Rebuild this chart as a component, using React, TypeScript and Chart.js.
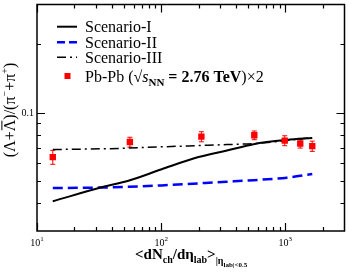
import React, { useEffect, useRef } from 'react';
import { Chart, registerables } from 'chart.js';

Chart.register(...registerables);

// ---- data ----
const dataX = [13.4, 56, 211, 563, 990, 1320, 1650];
const dataY = [0.0636, 0.0741, 0.0783, 0.0794, 0.0752, 0.073, 0.0711];
const dataErr = [0.0045, 0.0037, 0.004, 0.0035, 0.0038, 0.0033, 0.0037];

const modelX = [13.4, 34.3, 54.5, 101, 200, 339, 555, 1032, 1650];
const scenarioI = [0.0406, 0.047, 0.05, 0.0562, 0.0636, 0.068, 0.0725, 0.0757, 0.0772];
const scenarioII = [0.0464, 0.0467, 0.047, 0.0477, 0.0487, 0.0495, 0.0503, 0.0516, 0.0535];
const scenarioIII = [0.0687, 0.0692, 0.0697, 0.0706, 0.0715, 0.0722, 0.073, 0.0752, 0.0776];

const legendLabels = ['Scenario-I', 'Scenario-II', 'Scenario-III'];

const xMajorTicks = [10, 100, 1000];
const xMajorExp = ['1', '2', '3'];
const xMinorTicks = [20, 30, 40, 50, 60, 70, 80, 90, 200, 300, 400, 500, 600, 700, 800, 900, 2000];
const yMajorTicks = [0.1];
const yMajorLabels = ['0.1'];
const yMinorTicks = [0.04, 0.05, 0.06, 0.07, 0.08, 0.09, 0.2];

const SERIF = "'Liberation Serif', 'Times New Roman', serif";

type Run = { t: string; size: number; weight?: string; style?: string; dy?: number; over?: boolean };

function fontOf(r: Run) {
  return `${r.style || 'normal'} ${r.weight || 'normal'} ${r.size}px ${SERIF}`;
}
function runsWidth(ctx: CanvasRenderingContext2D, runs: Run[]) {
  let w = 0;
  for (const r of runs) {
    ctx.font = fontOf(r);
    w += ctx.measureText(r.t).width;
  }
  return w;
}
function drawRuns(ctx: CanvasRenderingContext2D, x: number, y: number, runs: Run[]) {
  let cx = x;
  for (const r of runs) {
    ctx.font = fontOf(r);
    const w = ctx.measureText(r.t).width;
    ctx.fillText(r.t, cx, y + (r.dy || 0));
    if (r.over) {
      ctx.save();
      ctx.lineWidth = 1;
      ctx.beginPath();
      ctx.moveTo(cx + 1, y + (r.dy || 0) - r.size * 0.82);
      ctx.lineTo(cx + w - 1, y + (r.dy || 0) - r.size * 0.82);
      ctx.stroke();
      ctx.restore();
    }
    cx += w;
  }
}

const errorBarPlugin = {
  id: 'errorBars',
  beforeDatasetsDraw(chart: any) {
    const ctx = chart.ctx as CanvasRenderingContext2D;
    const xs = chart.scales.x;
    const ys = chart.scales.y;
    ctx.save();
    ctx.strokeStyle = '#ff0000';
    ctx.lineWidth = 1;
    dataX.forEach((xv, i) => {
      const px = xs.getPixelForValue(xv);
      const pTop = ys.getPixelForValue(dataY[i] + dataErr[i]);
      const pBot = ys.getPixelForValue(dataY[i] - dataErr[i]);
      ctx.beginPath();
      ctx.moveTo(px, pTop);
      ctx.lineTo(px, pBot);
      ctx.moveTo(px - 2.5, pTop);
      ctx.lineTo(px + 2.5, pTop);
      ctx.moveTo(px - 2.5, pBot);
      ctx.lineTo(px + 2.5, pBot);
      ctx.stroke();
    });
    ctx.restore();
  },
};

const framePlugin = {
  id: 'frame',
  afterDraw(chart: any) {
    const ctx = chart.ctx as CanvasRenderingContext2D;
    const { left, right, top, bottom } = chart.chartArea;
    const xs = chart.scales.x;
    const ys = chart.scales.y;
    ctx.save();
    ctx.strokeStyle = '#000';
    ctx.fillStyle = '#000';
    ctx.lineWidth = 1.5;
    ctx.strokeRect(left, top, right - left, bottom - top);

    ctx.lineWidth = 1.2;
    const xt = (v: number, len: number) => {
      const px = Math.round(xs.getPixelForValue(v)) + 0.5;
      ctx.beginPath();
      ctx.moveTo(px, bottom);
      ctx.lineTo(px, bottom - len);
      ctx.moveTo(px, top);
      ctx.lineTo(px, top + len);
      ctx.stroke();
    };
    const yt = (v: number, len: number) => {
      const py = Math.round(ys.getPixelForValue(v)) + 0.5;
      ctx.beginPath();
      ctx.moveTo(left, py);
      ctx.lineTo(left + len, py);
      ctx.moveTo(right, py);
      ctx.lineTo(right - len, py);
      ctx.stroke();
    };
    xMajorTicks.forEach((v) => xt(v, 8));
    xMinorTicks.forEach((v) => xt(v, 4));
    yMajorTicks.forEach((v) => yt(v, 8));
    yMinorTicks.forEach((v) => yt(v, 4));

    // tick labels
    ctx.textBaseline = 'alphabetic';
    ctx.textAlign = 'left';
    xMajorTicks.forEach((v, i) => {
      const px = xs.getPixelForValue(v);
      const runs: Run[] = [
        { t: '10', size: 10 },
        { t: xMajorExp[i], size: 7, dy: -5 },
      ];
      const w = runsWidth(ctx, runs);
      drawRuns(ctx, px - w / 2, 246, runs);
    });
    yMajorTicks.forEach((v, i) => {
      const py = ys.getPixelForValue(v);
      const runs: Run[] = [{ t: yMajorLabels[i], size: 10 }];
      const w = runsWidth(ctx, runs);
      drawRuns(ctx, left - 3 - w, py + 3.5, runs);
    });

    // x title
    const xr: Run[] = [
      { t: '<dN', size: 15, weight: 'bold' },
      { t: 'ch', size: 10, weight: 'bold', dy: 4 },
      { t: '/d\u03b7', size: 15, weight: 'bold' },
      { t: 'lab', size: 10, weight: 'bold', dy: 4 },
      { t: '>', size: 15, weight: 'bold' },
      { t: '|\u03b7', size: 10, weight: 'bold', dy: 5 },
      { t: 'lab|<0.5', size: 7, weight: 'bold', dy: 8 },
    ];
    drawRuns(ctx, 135, 259, xr);

    // y title
    const yr: Run[] = [
      { t: '(\u039b+', size: 16 },
      { t: '\u039b', size: 16, over: true },
      { t: ')/(\u03c0', size: 16 },
      { t: '\u2212', size: 10, dy: -7 },
      { t: '+\u03c0', size: 16 },
      { t: '+', size: 10, dy: -7 },
      { t: ')', size: 16 },
    ];
    ctx.save();
    ctx.translate(15, 110);
    ctx.rotate(-Math.PI / 2);
    const yw = runsWidth(ctx, yr);
    drawRuns(ctx, -yw / 2, 0, yr);
    ctx.restore();

    // legend
    const lx0 = 57;
    const lx1 = 77;
    const tx = 85;
    const rowsY = [26.7, 42.3, 57.3];
    const styles = [
      { color: '#000', dash: [] as number[], w: 2 },
      { color: '#0000ff', dash: [8, 4], w: 2.5 },
      { color: '#000', dash: [9, 4, 2, 4], w: 1.5 },
    ];
    rowsY.forEach((yy, i) => {
      const st = styles[i];
      ctx.save();
      ctx.strokeStyle = st.color;
      ctx.lineWidth = st.w;
      ctx.setLineDash(st.dash);
      ctx.beginPath();
      ctx.moveTo(lx0, yy);
      ctx.lineTo(lx1, yy);
      ctx.stroke();
      ctx.restore();
      drawRuns(ctx, tx, yy + 5.5, [{ t: legendLabels[i], size: 16 }]);
    });
    ctx.fillStyle = '#ff0000';
    ctx.fillRect(64.5, 73, 6, 6);
    ctx.fillStyle = '#000';
    drawRuns(ctx, tx, 81.5, [
      { t: 'Pb-Pb (\u221a', size: 16 },
      { t: 's', size: 16, style: 'italic' },
      { t: 'NN', size: 11, weight: 'bold', dy: 4 },
      { t: ' = 2.76 TeV', size: 16, weight: 'bold' },
      { t: ')\u00d72', size: 16 },
    ]);
    ctx.restore();
  },
};

export default function App() {
  const ref = useRef<HTMLCanvasElement | null>(null);
  useEffect(() => {
    if (!ref.current) return;
    const toPts = (xs: number[], ys: number[]) => xs.map((x, i) => ({ x, y: ys[i] }));
    const chart = new Chart(ref.current, {
      type: 'scatter',
      data: {
        datasets: [
          {
            label: 'Pb-Pb',
            data: toPts(dataX, dataY),
            pointStyle: 'rect',
            pointRadius: 4.5,
            backgroundColor: '#ff0000',
            borderWidth: 0,
            showLine: false,
          },
          {
            label: legendLabels[0],
            data: toPts(modelX, scenarioI),
            showLine: true,
            borderColor: '#000',
            borderWidth: 2,
            pointRadius: 0,
            cubicInterpolationMode: 'monotone',
          },
          {
            label: legendLabels[1],
            data: toPts(modelX, scenarioII),
            showLine: true,
            borderColor: '#0000ff',
            borderWidth: 2.5,
            borderDash: [10, 5],
            pointRadius: 0,
            cubicInterpolationMode: 'monotone',
          },
          {
            label: legendLabels[2],
            data: toPts(modelX, scenarioIII),
            showLine: true,
            borderColor: '#000',
            borderWidth: 1.5,
            borderDash: [9, 4, 2, 4],
            pointRadius: 0,
            cubicInterpolationMode: 'monotone',
          },
        ],
      },
      options: {
        responsive: false,
        animation: false,
        devicePixelRatio: 1,
        layout: { padding: { left: 37, top: 2, right: 4, bottom: 42 } },
        plugins: { legend: { display: false }, tooltip: { enabled: false } },
        scales: {
          x: { type: 'logarithmic', min: 10, max: 3000, display: false },
          y: { type: 'logarithmic', min: 0.03, max: 0.3, display: false },
        },
      },
      plugins: [errorBarPlugin, framePlugin],
    } as any);
    return () => chart.destroy();
  }, []);
  return (
    <div style={{ position: 'absolute', left: 0, top: 0, width: 349, height: 273, background: '#fff' }}>
      <canvas ref={ref} width={349} height={273} style={{ display: 'block' }} />
    </div>
  );
}
